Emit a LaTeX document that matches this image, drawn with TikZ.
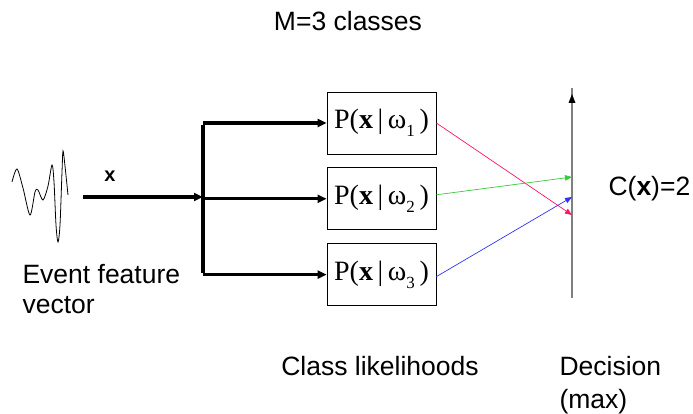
\documentclass[tikz,border=0pt]{standalone}
\usepackage{fontspec}
\setmainfont{Liberation Sans}
\newfontfamily\likefont{Liberation Serif}
\usetikzlibrary{positioning, arrows.meta, calc}
\definecolor{votered}{RGB}{255,20,100}
\definecolor{votegreen}{RGB}{60,200,60}
\definecolor{voteblue}{RGB}{50,50,240}
\newcommand{\lsub}[1]{\raisebox{-0.28em}{\fontsize{17}{17}\selectfont #1}}
\begin{document}
\begin{tikzpicture}[
		x=1pt, y=-1pt,
		% pixel-like coordinates, origin top left
		>={Triangle[length=9pt,width=8pt]},
		likebox/.style={draw, line width=0.8pt, minimum width=109pt, minimum height=62pt, inner sep=0pt, font=\likefont\fontsize{28}{32}\selectfont},
		feed/.style={->, line width=3.2pt},
		vote/.style={-{Triangle[length=7pt,width=5.5pt]}, line width=0.7pt},
		lbl/.style={font=\fontsize{26.5}{30}\selectfont}
		]
		\useasboundingbox (0,0) rectangle (693,414);
		
		% --- 1. TITLE ---
		\node[lbl, anchor=base] (title) at (348,31) {M=3 classes};
		
		% --- 2. INPUT SIGNAL ---
		\draw[line width=0.8pt] plot[smooth, tension=0.5] coordinates {(12,182) (17,169) (23,188) (30,215) (35,192) (38,190) (43,200) (48,186) (52,165) (54,182) (56,225) (58,242) (60,225) (62,172) (63,151) (65,166) (68,195)};
		\node[lbl, anchor=base west, align=left] (event) at (19,313) {Event feature\\vector};
		
		% --- 3. CLASS LIKELIHOOD BOXES ---
		\node[likebox] (like1) at (381.5,123) {P(\textbf{x}\,|\,ω\lsub{1}\,)};
		\node[likebox, below=13pt of like1] (like2) {P(\textbf{x}\,|\,ω\lsub{2}\,)};
		\node[likebox, below=13pt of like2] (like3) {P(\textbf{x}\,|\,ω\lsub{3}\,)};
		\node[lbl, anchor=base] (likelbl) at (380,375) {Class likelihoods};
		
		% --- 4. FEEDING THE FEATURE VECTOR ---
		\coordinate (xin) at (83,197);
		\coordinate (split) at (203,197);
		\draw[feed] (xin) -- (split);
		\node[font=\bfseries\fontsize{20}{24}\selectfont, anchor=base] (xlbl) at (110,182) {x};
		\draw[line width=3.2pt] ([yshift=-1.6pt]split |- like1.west) -- ([yshift=1.6pt]split |- like3.west);
		\foreach \i in {1,2,3} {
			\draw[feed] (split |- like\i.west) -- (like\i.west);
		}
		
		% --- 5. DECISION AXIS ---
		\coordinate (axbot) at (572,298);
		\coordinate (axtop) at (572,94);
		\draw[gray, line width=1.5pt] (axbot) -- ([yshift=6pt]axtop);
		\fill (axtop) -- ++(-3.5,9) -- ++(7,0) -- cycle;
		\coordinate (dec1) at (572,215);
		\coordinate (dec2) at (572,177);
		\coordinate (dec3) at (572,197);
		\draw[vote, votered] (like1.east) -- (dec1);
		\draw[vote, votegreen] ([yshift=4pt]like2.east) -- (dec2);
		\draw[vote, voteblue] ([yshift=-2pt]like3.east) -- (dec3);
		
		\node[lbl, anchor=base west] (result) at (605,196) {C(\textbf{x})=2};
		\node[lbl, anchor=base west, align=left] (declbl) at (556,408) {Decision\\[3pt](max)};
		
	\end{tikzpicture}
\end{document}
